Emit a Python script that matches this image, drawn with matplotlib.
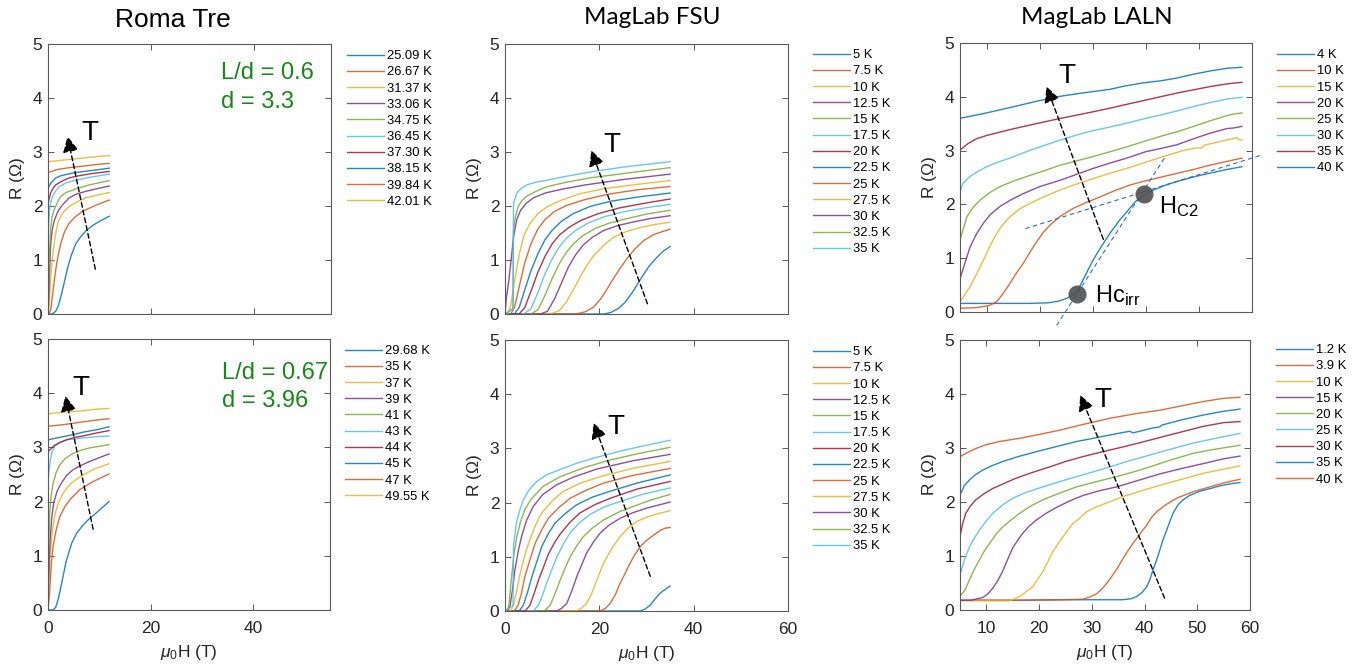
import matplotlib
matplotlib.use('Agg')
import matplotlib.pyplot as plt

plt.rcParams['font.family'] = ['Liberation Sans', 'DejaVu Sans']
plt.rcParams['mathtext.fontset'] = 'custom'
plt.rcParams['mathtext.rm'] = 'Liberation Sans'
plt.rcParams['mathtext.it'] = 'Liberation Sans:italic'
plt.rcParams['mathtext.bf'] = 'Liberation Sans:bold'

# ------------------------------------------------------------------ data
# Roma Tre, top (L/d = 0.6)
ROMA_TOP_T = ["25.09 K", "26.67 K", "31.37 K", "33.06 K", "34.75 K",
              "36.45 K", "37.30 K", "38.15 K", "39.84 K", "42.01 K"]
ROMA_TOP_H = [
    [0, 0.8, 1.5, 2.0, 2.5, 3.0, 3.8, 4.5, 5.4, 6.5, 7.5, 8.7, 9.9, 11.9],
    [0, 0.3, 0.6, 0.85, 1.2, 1.5, 2.0, 2.5, 3.2, 4.1, 5.3, 6.7, 8.5, 10.2, 11.9],
    [0, 0.2, 0.5, 0.8, 1.2, 1.6, 2.1, 3.0, 4.1, 5.5, 7.3, 9.5, 11.9],
    [0, 0.15, 0.3, 0.5, 0.8, 1.2, 1.7, 2.1, 3.0, 4.1, 5.5, 7.3, 9.5, 11.9],
    [0, 0.1, 0.2, 0.5, 0.8, 1.2, 2.0, 2.5, 3.5, 5.5, 8.0, 11.9],
    [0, 0.05, 0.15, 0.3, 0.5, 0.9, 1.5, 2.2, 3.5, 5.5, 8.0, 11.9],
    [0, 0.05, 0.2, 0.5, 1.0, 1.5, 2.5, 4.1, 6.0, 8.5, 11.9],
    [0, 0.05, 0.3, 0.5, 1.0, 1.5, 2.5, 4.8, 7.0, 9.5, 11.9],
    [0, 1.0, 2.0, 3.4, 5.0, 7.0, 9.5, 11.9],
    [0, 2, 4, 6, 8, 10, 11.9],
]
ROMA_TOP_R = [
    [0, 0, 0.05, 0.15, 0.32, 0.52, 0.85, 1.08, 1.3, 1.45, 1.55, 1.64, 1.71, 1.81],
    [0, 0.02, 0.12, 0.33, 0.6, 0.82, 1.1, 1.31, 1.52, 1.68, 1.8, 1.9, 1.98, 2.05, 2.11],
    [0, 0.15, 0.63, 1.0, 1.31, 1.55, 1.74, 1.89, 1.99, 2.07, 2.15, 2.2, 2.25],
    [0, 0.35, 0.8, 1.25, 1.55, 1.72, 1.85, 1.93, 2.04, 2.15, 2.22, 2.27, 2.32, 2.37],
    [0, 0.5, 0.94, 1.56, 1.8, 1.93, 2.1, 2.18, 2.25, 2.32, 2.39, 2.47],
    [1.37, 1.5, 1.7, 1.93, 2.05, 2.18, 2.28, 2.36, 2.43, 2.48, 2.53, 2.59],
    [1.99, 2.05, 2.12, 2.24, 2.33, 2.39, 2.45, 2.52, 2.56, 2.6, 2.64],
    [2.3, 2.33, 2.38, 2.42, 2.47, 2.52, 2.56, 2.61, 2.64, 2.67, 2.70],
    [2.62, 2.65, 2.68, 2.70, 2.72, 2.74, 2.77, 2.79],
    [2.82, 2.84, 2.86, 2.88, 2.9, 2.92, 2.93],
]

# Roma Tre, bottom (L/d = 0.67)
ROMA_BOT_T = ["29.68 K", "35 K", "37 K", "39 K", "41 K",
              "43 K", "44 K", "45 K", "47 K", "49.55 K"]
ROMA_BOT_H = [
    [0, 1.0, 1.5, 2.0, 2.5, 3.0, 3.5, 4.6, 5.6, 6.8, 8.0, 9.4, 10.7, 11.9],
    [0, 0.3, 0.65, 1.0, 1.6, 2.3, 3.3, 4.5, 6.2, 8.8, 11.9],
    [0, 0.15, 0.4, 0.85, 1.4, 2.0, 2.9, 3.9, 5.2, 6.8, 9.0, 11.9],
    [0, 0.1, 0.25, 0.45, 0.75, 1.1, 1.8, 2.6, 3.6, 4.9, 6.5, 8.1, 10, 11.9],
    [0, 0.08, 0.2, 0.33, 0.6, 1.0, 1.6, 2.3, 3.4, 4.9, 6.5, 8.1, 10, 11.9],
    [0, 0.2, 0.45, 0.8, 1.3, 2.3, 3.6, 5.5, 7.5, 9.7, 11.9],
    [0, 0.3, 1.3, 2.3, 3.6, 5.5, 6.8, 9.7, 11.9],
    [0, 1.5, 3.6, 5.5, 6.8, 9.7, 11.9],
    [0, 3, 6, 9, 11.9],
    [0, 3, 6, 9, 11.9],
]
ROMA_BOT_R = [
    [0, 0, 0.05, 0.2, 0.42, 0.65, 0.88, 1.23, 1.42, 1.56, 1.68, 1.79, 1.9, 2.0],
    [0, 0.3, 0.86, 1.18, 1.48, 1.72, 1.91, 2.06, 2.22, 2.37, 2.51],
    [0, 0.5, 1.0, 1.48, 1.78, 1.97, 2.15, 2.28, 2.39, 2.49, 2.6, 2.70],
    [0, 0.5, 0.95, 1.35, 1.72, 1.97, 2.2, 2.34, 2.48, 2.59, 2.67, 2.74, 2.81, 2.88],
    [0, 0.7, 1.35, 1.79, 2.1, 2.34, 2.54, 2.68, 2.8, 2.89, 2.95, 2.99, 3.02, 3.05],
    [2.34, 2.58, 2.77, 2.92, 3.02, 3.09, 3.14, 3.16, 3.18, 3.2, 3.21],
    [2.92, 2.95, 3.04, 3.09, 3.14, 3.19, 3.21, 3.27, 3.31],
    [3.14, 3.17, 3.21, 3.25, 3.28, 3.33, 3.38],
    [3.39, 3.42, 3.46, 3.5, 3.53],
    [3.62, 3.65, 3.67, 3.7, 3.72],
]

# MagLab FSU, top
FSU_TOP_T = ["5 K", "7.5 K", "10 K", "12.5 K", "15 K", "17.5 K", "20 K",
             "22.5 K", "25 K", "27.5 K", "30 K", "32.5 K", "35 K"]
FSU_TOP_H = [
    [0, 21, 22.5, 24, 25.5, 27, 28.7, 30.5, 32, 33.5, 35],
    [0, 15, 17, 18.8, 20.3, 21.7, 23, 24.5, 26, 27.5, 29.4, 31.5, 33.5, 35],
    [0, 9.5, 11.5, 13, 14.5, 16, 17.5, 19, 21, 23, 25.5, 28.5, 32, 35],
    [0, 7.5, 9.0, 10.5, 12, 13.5, 15, 16.5, 18.5, 21, 24, 27.5, 31, 35],
    [0, 5.5, 7, 8.5, 10, 11.5, 13, 14.5, 16.5, 19, 22, 26, 30, 35],
    [0, 4.0, 5.5, 7, 8.5, 10, 11.5, 13, 15, 17.5, 21, 25, 30, 35],
    [0, 3.0, 4.2, 5.5, 7, 8.5, 10, 11.5, 13.5, 16, 19.5, 24, 29.5, 35],
    [0, 2.0, 3.0, 4.2, 5.5, 7, 8.5, 10, 12, 14.5, 18, 22.5, 28.5, 35],
    [0, 1.2, 2.0, 3.0, 4.2, 5.5, 7, 8.5, 10.5, 13, 17, 22, 28, 35],
    [0, 0.6, 1.2, 2.0, 3.0, 4.0, 5.3, 7, 9, 12, 16, 21, 28, 35],
    [0, 0.3, 0.8, 1.3, 1.8, 2.5, 3.3, 4.5, 6, 8.5, 12, 17, 25, 35],
    [0, 1.7, 1.8, 2.2, 2.8, 3.6, 4.6, 6.5, 9, 13, 18, 25, 35],
    [0, 1.7, 1.8, 2.5, 3.5, 4.6, 6.5, 9, 13, 18.8, 25, 30, 35],
]
FSU_TOP_R = [
    [0, 0, 0.03, 0.1, 0.22, 0.4, 0.64, 0.88, 1.03, 1.16, 1.25],
    [0, 0, 0.04, 0.13, 0.28, 0.47, 0.66, 0.86, 1.04, 1.2, 1.36, 1.47, 1.53, 1.57],
    [0, 0, 0.06, 0.22, 0.45, 0.7, 0.92, 1.1, 1.28, 1.42, 1.52, 1.6, 1.66, 1.70],
    [0, 0, 0.05, 0.28, 0.58, 0.88, 1.1, 1.27, 1.42, 1.55, 1.64, 1.71, 1.77, 1.82],
    [0, 0, 0.08, 0.35, 0.66, 0.93, 1.14, 1.3, 1.45, 1.58, 1.68, 1.77, 1.85, 1.92],
    [0, 0, 0.1, 0.4, 0.75, 1.02, 1.24, 1.4, 1.55, 1.68, 1.8, 1.89, 1.97, 2.03],
    [0, 0, 0.12, 0.42, 0.78, 1.07, 1.3, 1.46, 1.6, 1.73, 1.85, 1.96, 2.05, 2.13],
    [0, 0, 0.12, 0.45, 0.8, 1.12, 1.38, 1.55, 1.72, 1.86, 1.99, 2.09, 2.17, 2.24],
    [0, 0, 0.12, 0.5, 0.95, 1.3, 1.58, 1.75, 1.9, 2.01, 2.12, 2.22, 2.3, 2.36],
    [0, 0, 0.15, 0.6, 1.1, 1.45, 1.68, 1.86, 1.99, 2.11, 2.23, 2.32, 2.4, 2.47],
    [0, 0.3, 0.62, 1.0, 1.42, 1.75, 1.92, 2.05, 2.15, 2.24, 2.31, 2.39, 2.49, 2.59],
    [0, 0.1, 1.56, 1.8, 1.99, 2.1, 2.18, 2.27, 2.36, 2.44, 2.52, 2.6, 2.71],
    [0, 0.1, 2.05, 2.24, 2.33, 2.39, 2.44, 2.48, 2.55, 2.64, 2.72, 2.77, 2.82],
]

# MagLab FSU, bottom
FSU_BOT_T = FSU_TOP_T
FSU_BOT_H = [
    [0, 28.7, 29.8, 30.8, 31.8, 32.9, 34, 35],
    [0, 20.2, 21.3, 22.3, 23.4, 24.4, 25.5, 26.5, 27.6, 28.7, 30, 31.5, 33, 34, 35],
    [0, 15.2, 16.3, 17.3, 18.4, 19.5, 20.5, 21.6, 23, 24.4, 26, 27.9, 30, 32.2, 35],
    [0, 11, 12, 13.1, 14.2, 15.2, 16.3, 17.3, 18.8, 20.2, 22, 24.4, 27, 30.1, 35],
    [0, 8.3, 9.6, 10.6, 11.7, 12.8, 13.8, 15.2, 16.6, 18.5, 20.9, 24, 27.2, 31, 35],
    [0, 6, 7.1, 8, 8.8, 10, 11, 12.4, 13.8, 15.8, 18, 21, 24.4, 29, 35],
    [0, 4.3, 5.3, 6.2, 7.1, 8.2, 9.2, 10.5, 11.7, 13.8, 15.9, 19, 22.3, 28, 35],
    [0, 3.0, 3.9, 4.8, 5.7, 6.7, 7.8, 9.2, 10.6, 12.8, 15.2, 18.5, 22.3, 28, 35],
    [0, 2.0, 2.8, 3.5, 4.2, 5.3, 6.4, 7.8, 9.2, 11.3, 13.8, 17, 20.9, 27, 35],
    [0, 1.2, 1.8, 2.5, 3.2, 4.1, 5.0, 6.4, 7.8, 10, 12.4, 16, 20.2, 27, 35],
    [0, 0.6, 1.1, 1.6, 2.1, 2.8, 3.5, 4.6, 6.0, 8, 11, 14.5, 19.5, 27, 35],
    [0, 0.3, 0.8, 1.4, 1.9, 2.5, 3.3, 4.2, 5.5, 8.1, 11.5, 16.6, 22, 28, 35],
    [0, 1.7, 1.8, 2.4, 3.2, 3.9, 5.0, 6.7, 9, 11.7, 15, 18.8, 24, 29, 35],
]
FSU_BOT_R = [
    [0, 0, 0.04, 0.11, 0.22, 0.33, 0.4, 0.46],
    [0, 0, 0.05, 0.14, 0.3, 0.51, 0.7, 0.88, 1.05, 1.19, 1.3, 1.4, 1.49, 1.53, 1.54],
    [0, 0, 0.06, 0.14, 0.33, 0.57, 0.8, 1.0, 1.2, 1.37, 1.52, 1.65, 1.73, 1.79, 1.85],
    [0, 0, 0.05, 0.14, 0.38, 0.63, 0.86, 1.07, 1.28, 1.44, 1.58, 1.71, 1.81, 1.9, 2.01],
    [0, 0, 0.11, 0.32, 0.57, 0.8, 1.0, 1.2, 1.37, 1.53, 1.68, 1.82, 1.93, 2.05, 2.15],
    [0, 0, 0.11, 0.3, 0.51, 0.78, 1.0, 1.24, 1.44, 1.63, 1.78, 1.92, 2.02, 2.15, 2.27],
    [0, 0, 0.11, 0.33, 0.57, 0.82, 1.05, 1.26, 1.42, 1.64, 1.81, 1.96, 2.08, 2.25, 2.39],
    [0, 0, 0.11, 0.35, 0.63, 0.9, 1.19, 1.43, 1.62, 1.8, 1.96, 2.1, 2.21, 2.36, 2.51],
    [0, 0, 0.11, 0.33, 0.63, 0.95, 1.25, 1.5, 1.71, 1.9, 2.08, 2.22, 2.36, 2.5, 2.63],
    [0, 0, 0.11, 0.38, 0.68, 1.0, 1.25, 1.57, 1.81, 2.03, 2.21, 2.36, 2.48, 2.63, 2.76],
    [0, 0, 0.11, 0.4, 0.76, 1.1, 1.37, 1.68, 1.93, 2.15, 2.33, 2.47, 2.62, 2.77, 2.89],
    [0, 0, 0.08, 0.63, 1.05, 1.37, 1.65, 1.87, 2.06, 2.3, 2.47, 2.64, 2.78, 2.9, 3.02],
    [0, 0.1, 1.2, 1.62, 1.88, 2.05, 2.22, 2.39, 2.52, 2.61, 2.72, 2.82, 2.94, 3.04, 3.15],
]

# MagLab LALN, top
LALN_TOP_T = ["4 K", "10 K", "15 K", "20 K", "25 K", "30 K", "35 K", "40 K"]
LALN_TOP_H = [
    [5, 12, 18, 21.5, 23.5, 25, 26, 27, 28.2, 29.2, 30.1, 31.5, 33.3, 35, 36.4,
     38, 39.7, 41.5, 43.5, 46, 49, 52, 55.3, 58.1],
    [5, 8, 10.5, 11.9, 13.1, 14.4, 15.6, 16.9, 18.1, 19.4, 20.7, 22, 23.9, 26.4,
     28.9, 31.4, 34.5, 37, 39.6, 43, 46, 49, 52.1, 55.3, 58.1],
    [5, 6.9, 8.1, 9.4, 10.6, 11.9, 13.1, 14.4, 16.3, 18.2, 21, 23.9, 27, 30.1,
     33.3, 36.4, 39.6, 43.3, 47, 49.5, 50.5, 51, 54, 57.2, 57.6, 58.1],
    [5, 6.9, 8.1, 9.4, 10.6, 12.5, 14.5, 16.9, 20, 23.9, 27, 30.1, 33.3, 36.4,
     40, 43.3, 45.9, 49, 52, 55.3, 56.5, 58.1],
    [5, 6.3, 7.5, 8.8, 10.6, 12.5, 15, 17.6, 20.7, 23.9, 27, 30.1, 33.3, 36.4,
     40, 43.3, 45.9, 49, 52, 55.3, 56.5, 58.1],
    [5, 5.6, 6.9, 8.5, 10, 12, 14.4, 17.5, 20.7, 24, 27, 30, 33.3, 36.4, 39.6,
     42.7, 46, 49, 52, 55.3, 58.1],
    [5, 6.5, 8.1, 10, 12, 14.4, 17.5, 20.7, 24, 27, 30, 33.3, 36.4, 39.6, 42.7,
     45.9, 49, 52.1, 55.3, 58.1],
    [5, 10, 14.4, 20, 23.9, 28, 33.3, 36, 39.6, 43, 45.9, 49, 52.1, 55.3, 58.1],
]
LALN_TOP_R = [
    [0.16, 0.16, 0.16, 0.17, 0.2, 0.25, 0.3, 0.37, 0.6, 0.8, 0.97, 1.2, 1.47, 1.7,
     1.86, 2.05, 2.17, 2.27, 2.35, 2.43, 2.51, 2.58, 2.65, 2.70],
    [0.07, 0.08, 0.12, 0.19, 0.34, 0.53, 0.72, 0.9, 1.1, 1.3, 1.48, 1.62, 1.78,
     1.93, 2.04, 2.14, 2.27, 2.36, 2.43, 2.51, 2.58, 2.65, 2.73, 2.8, 2.86],
    [0.19, 0.47, 0.7, 0.96, 1.22, 1.46, 1.63, 1.77, 1.92, 2.02, 2.15, 2.27, 2.38,
     2.48, 2.58, 2.67, 2.77, 2.89, 3.0, 3.05, 3.05, 3.1, 3.17, 3.24, 3.2, 3.2],
    [0.62, 1.21, 1.45, 1.65, 1.8, 1.96, 2.08, 2.2, 2.33, 2.45, 2.56, 2.67, 2.77,
     2.86, 2.98, 3.05, 3.11, 3.22, 3.32, 3.41, 3.42, 3.45],
    [1.34, 1.77, 1.95, 2.08, 2.22, 2.33, 2.43, 2.52, 2.62, 2.73, 2.81, 2.89, 2.98,
     3.07, 3.18, 3.28, 3.35, 3.45, 3.55, 3.65, 3.68, 3.70],
    [2.24, 2.4, 2.52, 2.62, 2.70, 2.78, 2.86, 2.98, 3.09, 3.2, 3.29, 3.37, 3.44,
     3.51, 3.59, 3.66, 3.74, 3.82, 3.89, 3.96, 3.99],
    [3.01, 3.13, 3.22, 3.28, 3.33, 3.39, 3.46, 3.53, 3.6, 3.66, 3.72, 3.79, 3.86,
     3.93, 4.0, 4.07, 4.13, 4.19, 4.24, 4.27],
    [3.6, 3.7, 3.8, 3.93, 4.01, 4.07, 4.14, 4.2, 4.26, 4.3, 4.35, 4.42, 4.48, 4.53, 4.55],
]

# MagLab LALN, bottom
LALN_BOT_T = ["1.2 K", "3.9 K", "10 K", "15 K", "20 K", "25 K", "30 K", "35 K", "40 K"]
LALN_BOT_H = [
    [5, 15, 25, 33, 35.9, 37.5, 38.5, 39.5, 40.4, 41, 41.6, 42.3, 42.9, 43.5, 44.2,
     44.8, 45.4, 46.3, 47.3, 48.5, 50.5, 52.5, 54.3, 56.5, 58.1],
    [5, 15, 25, 28.3, 29.6, 30.9, 31.8, 32.8, 33.7, 34.7, 35.6, 36.6, 37.7, 38.8,
     39.6, 40.4, 41.3, 42.3, 44.2, 46.1, 49.2, 52.4, 55.3, 58.1],
    [5, 10, 14.4, 16.3, 18.8, 20.7, 21.6, 22.6, 23.9, 25.2, 26.4, 27.7, 29, 30.9,
     35.9, 42.9, 51.1, 58.1],
    [5, 7, 9.3, 10.3, 11.2, 12.2, 13.1, 14.1, 15.0, 16, 16.9, 18.1, 19.4, 21.3,
     23.3, 25.8, 28.3, 31.5, 34.7, 38.8, 42.9, 47, 51.1, 55, 58.1],
    [5, 6, 6.8, 7.7, 8.7, 9.6, 10.6, 11.8, 13.1, 14.7, 16.3, 18.5, 20.7, 24, 27.1,
     31, 34.7, 38, 41, 45, 49.2, 53.5, 58.1],
    [5, 5.8, 6.8, 7.7, 8.7, 9.9, 11.2, 13, 15, 17.6, 20.7, 24, 27.1, 30.3, 33.4,
     37, 41, 45, 49.2, 53.5, 58.1],
    [5, 5.5, 6.1, 7, 8, 9.5, 11.2, 13.5, 15.6, 18.5, 22, 25, 28.3, 32, 35.9, 39.6,
     43.5, 47.5, 51.1, 55, 58.1],
    [5, 5.8, 6.8, 8, 9.3, 11, 13.1, 16, 19.4, 23, 27.1, 30.3, 33.4, 35.5, 36.6,
     37.2, 37.8, 39.5, 41.5, 42.9, 43.2, 43.5, 47, 51.1, 55, 58.1],
    [5, 6.5, 8, 9.9, 12.5, 16.3, 20, 23.9, 28.5, 33.4, 38, 42.9, 47, 51.1, 55, 58.1],
]
LALN_BOT_R = [
    [0.18, 0.18, 0.19, 0.19, 0.19, 0.21, 0.25, 0.32, 0.43, 0.56, 0.74, 0.93, 1.11,
     1.3, 1.48, 1.64, 1.79, 1.94, 2.04, 2.12, 2.2, 2.25, 2.3, 2.34, 2.36],
    [0.18, 0.18, 0.19, 0.2, 0.24, 0.3, 0.38, 0.49, 0.61, 0.75, 0.9, 1.06, 1.22,
     1.36, 1.47, 1.57, 1.71, 1.82, 1.96, 2.07, 2.19, 2.28, 2.36, 2.42],
    [0.17, 0.17, 0.17, 0.25, 0.43, 0.71, 0.88, 1.08, 1.27, 1.45, 1.6, 1.70, 1.82,
     1.91, 2.10, 2.31, 2.53, 2.67],
    [0.18, 0.18, 0.23, 0.3, 0.4, 0.55, 0.72, 0.95, 1.15, 1.3, 1.42, 1.55, 1.66,
     1.79, 1.9, 2.02, 2.12, 2.21, 2.28, 2.4, 2.52, 2.62, 2.71, 2.8, 2.85],
    [0.25, 0.38, 0.56, 0.75, 0.93, 1.09, 1.23, 1.4, 1.54, 1.67, 1.79, 1.93, 2.04,
     2.17, 2.28, 2.38, 2.47, 2.56, 2.65, 2.78, 2.9, 2.98, 3.05],
    [0.65, 0.92, 1.17, 1.33, 1.48, 1.64, 1.79, 1.94, 2.07, 2.18, 2.28, 2.38, 2.47,
     2.56, 2.65, 2.76, 2.87, 2.98, 3.09, 3.18, 3.27],
    [1.36, 1.6, 1.79, 1.93, 2.04, 2.15, 2.25, 2.35, 2.44, 2.54, 2.65, 2.75, 2.84,
     2.93, 3.02, 3.11, 3.21, 3.31, 3.4, 3.47, 3.49],
    [2.13, 2.3, 2.41, 2.51, 2.59, 2.67, 2.75, 2.84, 2.93, 3.02, 3.12, 3.18, 3.24,
     3.28, 3.30, 3.31, 3.28, 3.32, 3.37, 3.39, 3.42, 3.43, 3.52, 3.61, 3.68, 3.72],
    [2.84, 2.92, 2.99, 3.06, 3.12, 3.18, 3.25, 3.33, 3.44, 3.55, 3.63, 3.70, 3.78,
     3.86, 3.92, 3.94],
]

# Characteristic-field markers on the 4 K LALN curve
HC_POINTS_H = [27.0, 39.7]
HC_POINTS_R = [0.34, 2.19]
HC_LABELS = [r"Hc$_{\mathrm{irr}}$", r"H$_{\mathrm{C2}}$"]

# ------------------------------------------------------------------ style
COLORS = ['#0072BD', '#D95319', '#EDB120', '#7E2F8E', '#77AC30', '#4DBEEE', '#A2142F']
W, H = 1371, 668
SPINE = '#5a5a5a'
GREEN = '#138a13'

fig = plt.figure(figsize=(W / 100, H / 100), dpi=100)


def rect(l, r, t, b):
    return [l / W, 1 - b / H, (r - l) / W, (b - t) / H]


def draw_T_arrow(ax, start, tip, label_xy):
    ax.annotate('', xy=tip, xytext=start,
                arrowprops=dict(arrowstyle='-|>,head_length=0.5,head_width=0.25',
                                linestyle=(0, (3.5, 2.2)), lw=1.0, color='k',
                                shrinkA=0, shrinkB=0, mutation_scale=19))
    ax.text(label_xy[0], label_xy[1], 'T', fontsize=20, ha='center', va='center', color='k')


def panel(px, temps, Hs, Rs, xlim, xticks, bottom_row, leg_xy):
    ax = fig.add_axes(rect(*px))
    handles = []
    for i, (h, r) in enumerate(zip(Hs, Rs)):
        ln, = ax.plot(h, r, color=COLORS[i % 7], lw=1.0, alpha=0.85)
        handles.append(ln)
    ax.set_xlim(*xlim)
    ax.set_ylim(0, 5)
    ax.set_xticks(xticks)
    ax.set_yticks([0, 1, 2, 3, 4, 5])
    ax.tick_params(direction='in', top=True, right=True, length=4, width=0.7,
                   color=SPINE, labelsize=12.5, labelcolor='#262626')
    ax.tick_params(axis='x', pad=8)
    ax.tick_params(axis='y', pad=4)
    if not bottom_row:
        ax.tick_params(labelbottom=False)
    else:
        ax.set_xlabel(r"$\mu_0$H (T)", fontsize=12.5, color='#262626', labelpad=5)
    ax.set_ylabel(r"R ($\Omega$)", fontsize=12.5, color='#262626', labelpad=4)
    for s in ax.spines.values():
        s.set_color(SPINE)
        s.set_linewidth(0.8)
    ax.legend(handles, temps, loc='upper left',
              bbox_to_anchor=(leg_xy[0] / W, 1 - leg_xy[1] / H),
              bbox_transform=fig.transFigure, frameon=False, fontsize=9.4,
              handlelength=2.85, handletextpad=0.23, labelspacing=0.31,
              borderpad=0, borderaxespad=0)
    return ax


ax1 = panel((48, 331, 44, 314), ROMA_TOP_T, ROMA_TOP_H, ROMA_TOP_R,
            (0, 55), [0, 20, 40], False, (347, 50))
ax2 = panel((48, 330, 339, 610), ROMA_BOT_T, ROMA_BOT_H, ROMA_BOT_R,
            (0, 55), [0, 20, 40], True, (345, 345))
ax3 = panel((505, 788, 44, 314), FSU_TOP_T, FSU_TOP_H, FSU_TOP_R,
            (0, 60), [0, 20, 40, 60], False, (813, 49))
ax4 = panel((505, 788, 340, 611), FSU_BOT_T, FSU_BOT_H, FSU_BOT_R,
            (0, 60), [0, 20, 40, 60], True, (813, 346))
ax5 = panel((960, 1252, 43, 312), LALN_TOP_T, LALN_TOP_H, LALN_TOP_R,
            (5, 60), [10, 20, 30, 40, 50, 60], False, (1277, 49))
ax6 = panel((960, 1250, 340, 610), LALN_BOT_T, LALN_BOT_H, LALN_BOT_R,
            (5, 60), [10, 20, 30, 40, 50, 60], True, (1276, 344))

# column titles
fig.text(173 / W, 1 - 20 / H, 'Roma Tre', fontsize=19, ha='center', va='center')
fig.text(652 / W, 1 - 18 / H, 'MagLab FSU', fontsize=17.5, ha='center', va='center',
         family=['Lato', 'DejaVu Sans'])
fig.text(1097 / W, 1 - 18 / H, 'MagLab LALN', fontsize=17.5, ha='center', va='center',
         family=['Lato', 'DejaVu Sans'])

# sample geometry annotations
ax1.text(33.7, 4.46, 'L/d = 0.6', color=GREEN, fontsize=17, va='center', ha='left')
ax1.text(33.7, 3.93, 'd = 3.3', color=GREEN, fontsize=17, va='center', ha='left')
ax2.text(33.9, 4.37, 'L/d = 0.67', color=GREEN, fontsize=17, va='center', ha='left')
ax2.text(33.9, 3.85, 'd = 3.96', color=GREEN, fontsize=17, va='center', ha='left')

# temperature arrows
draw_T_arrow(ax1, (9.2, 0.83), (3.8, 3.29), (8.1, 3.35))
draw_T_arrow(ax2, (8.8, 1.49), (3.4, 3.95), (6.4, 4.1))
draw_T_arrow(ax3, (30.2, 0.19), (18.3, 3.03), (22.6, 3.13))
draw_T_arrow(ax4, (30.8, 0.64), (18.8, 3.47), (23.6, 3.40))
draw_T_arrow(ax5, (32.0, 1.35), (21.3, 4.19), (25.1, 4.38))
draw_T_arrow(ax6, (43.8, 0.22), (27.8, 3.98), (32.1, 3.89))

# tangent construction on the 4 K curve
ax5.plot([23.2, 43.7], [-0.25, 2.89], color='#2f6fc0', lw=0.8,
         linestyle=(0, (4, 3)), clip_on=False)
ax5.plot([17.3, 61.9], [1.55, 2.92], color='#2f6fc0', lw=0.8,
         linestyle=(0, (4, 3)), clip_on=False)
ax5.plot(HC_POINTS_H, HC_POINTS_R, 'o', color='#505050', markersize=13,
         alpha=0.9, markeredgewidth=0, zorder=5)
ax5.text(30.5, 0.31, HC_LABELS[0], fontsize=17, va='center', ha='left')
ax5.text(42.4, 1.96, HC_LABELS[1], fontsize=17, va='center', ha='left')

fig.savefig('out.png', dpi=100)
